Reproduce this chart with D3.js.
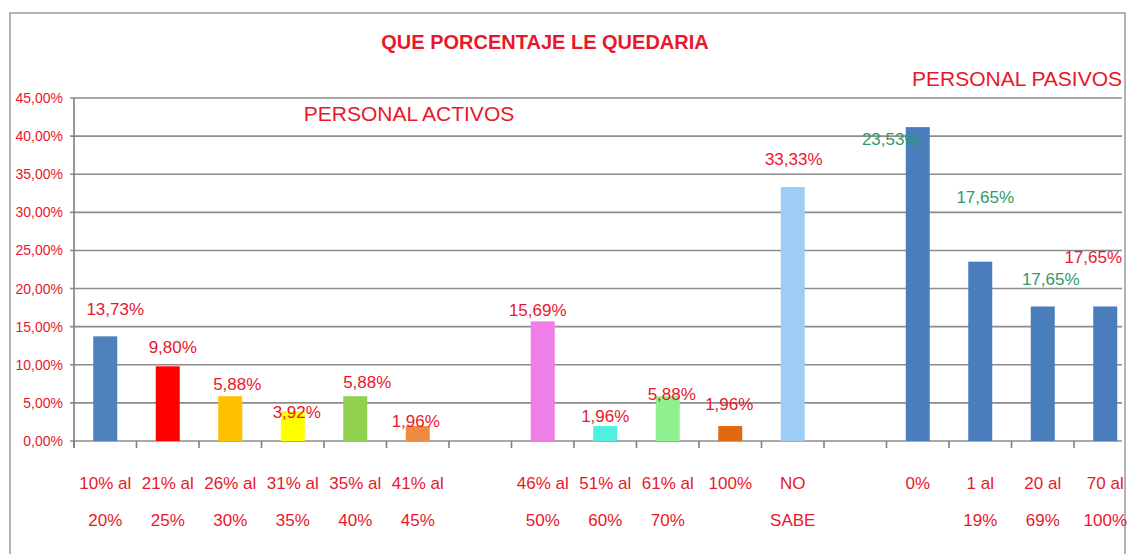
<!DOCTYPE html>
<html>
<head>
<meta charset="utf-8">
<style>
  body { margin: 0; background: #fff; }
  svg { display: block; }
  text { font-family: "Liberation Sans Narrow", "Arial Narrow", "Liberation Sans", sans-serif; }
</style>
</head>
<body>
<svg width="1130" height="554"></svg>
<script src="https://d3js.org/d3.v7.min.js"></script>
<script>

// categories (two lines each), blank slots are gaps between groups
var labelTop = ["10% al", "21% al", "26% al", "31% al", "35% al", "41% al", "",
                "46% al", "51% al", "61% al", "100%", "NO", "",
                "0%", "1 al", "20 al", "70 al"];
var labelBottom = ["20%", "25%", "30%", "35%", "40%", "45%", "",
                   "50%", "60%", "70%", "", "SABE", "",
                   "", "19%", "69%", "100%"];

// bar heights in percent
var values = [13.73, 9.80, 5.88, 3.92, 5.88, 1.96, null,
              15.69, 1.96, 5.88, 1.96, 33.33, null,
              41.18, 23.53, 17.65, 17.65];

// printed data labels, as they appear on the chart
var valueText = ["13,73%", "9,80%", "5,88%", "3,92%", "5,88%", "1,96%", "",
                 "15,69%", "1,96%", "5,88%", "1,96%", "33,33%", "",
                 "23,53%", "17,65%", "17,65%", "17,65%"];

var barColors = ["#4f81bd", "#ff0000", "#ffc000", "#ffff00", "#92d050", "#f08a40", "none",
                 "#ee7fe6", "#4ff0df", "#8ff08f", "#e2690f", "#9dccf5", "none",
                 "#4a7dbb", "#4a7dbb", "#4a7dbb", "#4a7dbb"];

var yTicks = [0, 5, 10, 15, 20, 25, 30, 35, 40, 45];

var red = "#e8172b", green = "#2f9a6a";

var svg = d3.select("svg");

var x = d3.scaleBand()
    .domain(d3.range(values.length))
    .range([74, 74 + 62.5 * values.length])
    .paddingInner(0.616)
    .paddingOuter(0.308);

var y = d3.scaleLinear()
    .domain([0, 45])
    .range([441, 98]);

// outer frame
svg.append("rect")
    .attr("x", 10).attr("y", 13)
    .attr("width", 1115).attr("height", 600)
    .attr("fill", "none")
    .attr("stroke", "#9a9a9a")
    .attr("stroke-width", 1.5);

// gridlines
svg.append("g")
  .selectAll("line")
  .data(yTicks)
  .enter().append("line")
    .attr("x1", 70).attr("x2", 1122)
    .attr("y1", function(d) { return y(d); })
    .attr("y2", function(d) { return y(d); })
    .attr("stroke", "#8c8c8c")
    .attr("stroke-width", 1.6);

// y axis
svg.append("line")
    .attr("x1", 74).attr("x2", 74)
    .attr("y1", y(45)).attr("y2", 448)
    .attr("stroke", "#7f7f7f")
    .attr("stroke-width", 1.6);

svg.append("g")
  .selectAll("text")
  .data(yTicks)
  .enter().append("text")
    .attr("x", 63)
    .attr("y", function(d) { return y(d) + 5; })
    .attr("text-anchor", "end")
    .attr("fill", red)
    .style("font-size", "14px")
    .text(function(d) { return d3.format(".2f")(d).replace(".", ",") + "%"; });

// x ticks at category edges
svg.append("g")
  .selectAll("line")
  .data(d3.range(values.length))
  .enter().append("line")
    .attr("x1", function(d) { return x(d) - x.step() * x.paddingOuter(); })
    .attr("x2", function(d) { return x(d) - x.step() * x.paddingOuter(); })
    .attr("y1", 441).attr("y2", 448)
    .attr("stroke", "#7f7f7f")
    .attr("stroke-width", 1.6);

// bars
var bars = values.map(function(v, i) { return {i: i, v: v}; })
    .filter(function(d) { return d.v != null; });

svg.append("g")
  .selectAll("rect")
  .data(bars)
  .enter().append("rect")
    .attr("x", function(d) { return x(d.i); })
    .attr("y", function(d) { return y(d.v); })
    .attr("width", x.bandwidth())
    .attr("height", function(d) { return y(0) - y(d.v); })
    .attr("fill", function(d) { return barColors[d.i]; });

// hand-placed data labels: [dx from bar centre, dy from bar top]
var nudge = [[10, -21], [5, -13], [7, -6], [4, 7], [12, -8], [-2, 1], null,
             [-5, -5], [0, -4], [4, 4], [-1, -16], [1, -22], null,
             [-27, 18], [5, -59], [8, -21], [-12, -43]];

svg.append("g")
  .selectAll("text")
  .data(bars)
  .enter().append("text")
    .attr("x", function(d) { return x(d.i) + x.bandwidth() / 2 + nudge[d.i][0]; })
    .attr("y", function(d) { return y(d.v) + nudge[d.i][1]; })
    .attr("text-anchor", "middle")
    .attr("fill", function(d) { return d.i >= 13 && d.i < 16 ? green : red; })
    .style("font-size", "17px")
    .text(function(d) { return valueText[d.i]; });

// category labels
var cat = svg.append("g")
  .selectAll("g")
  .data(d3.range(values.length))
  .enter().append("g")
    .attr("transform", function(d) { return "translate(" + (x(d) + x.bandwidth() / 2) + ",0)"; });

cat.append("text")
    .attr("y", 489)
    .attr("text-anchor", "middle")
    .attr("fill", red)
    .style("font-size", "17px")
    .text(function(d) { return labelTop[d]; });

cat.append("text")
    .attr("y", 526)
    .attr("text-anchor", "middle")
    .attr("fill", red)
    .style("font-size", "17px")
    .text(function(d) { return labelBottom[d]; });

// titles
svg.append("text")
    .attr("x", 545).attr("y", 49)
    .attr("text-anchor", "middle")
    .attr("fill", red)
    .style("font-size", "20px")
    .style("font-weight", "bold")
    .text("QUE PORCENTAJE LE QUEDARIA");

svg.append("text")
    .attr("x", 409).attr("y", 121)
    .attr("text-anchor", "middle")
    .attr("fill", red)
    .style("font-size", "21px")
    .text("PERSONAL ACTIVOS");

svg.append("text")
    .attr("x", 1017).attr("y", 86)
    .attr("text-anchor", "middle")
    .attr("fill", red)
    .style("font-size", "21px")
    .text("PERSONAL PASIVOS");

</script>
</body>
</html>
